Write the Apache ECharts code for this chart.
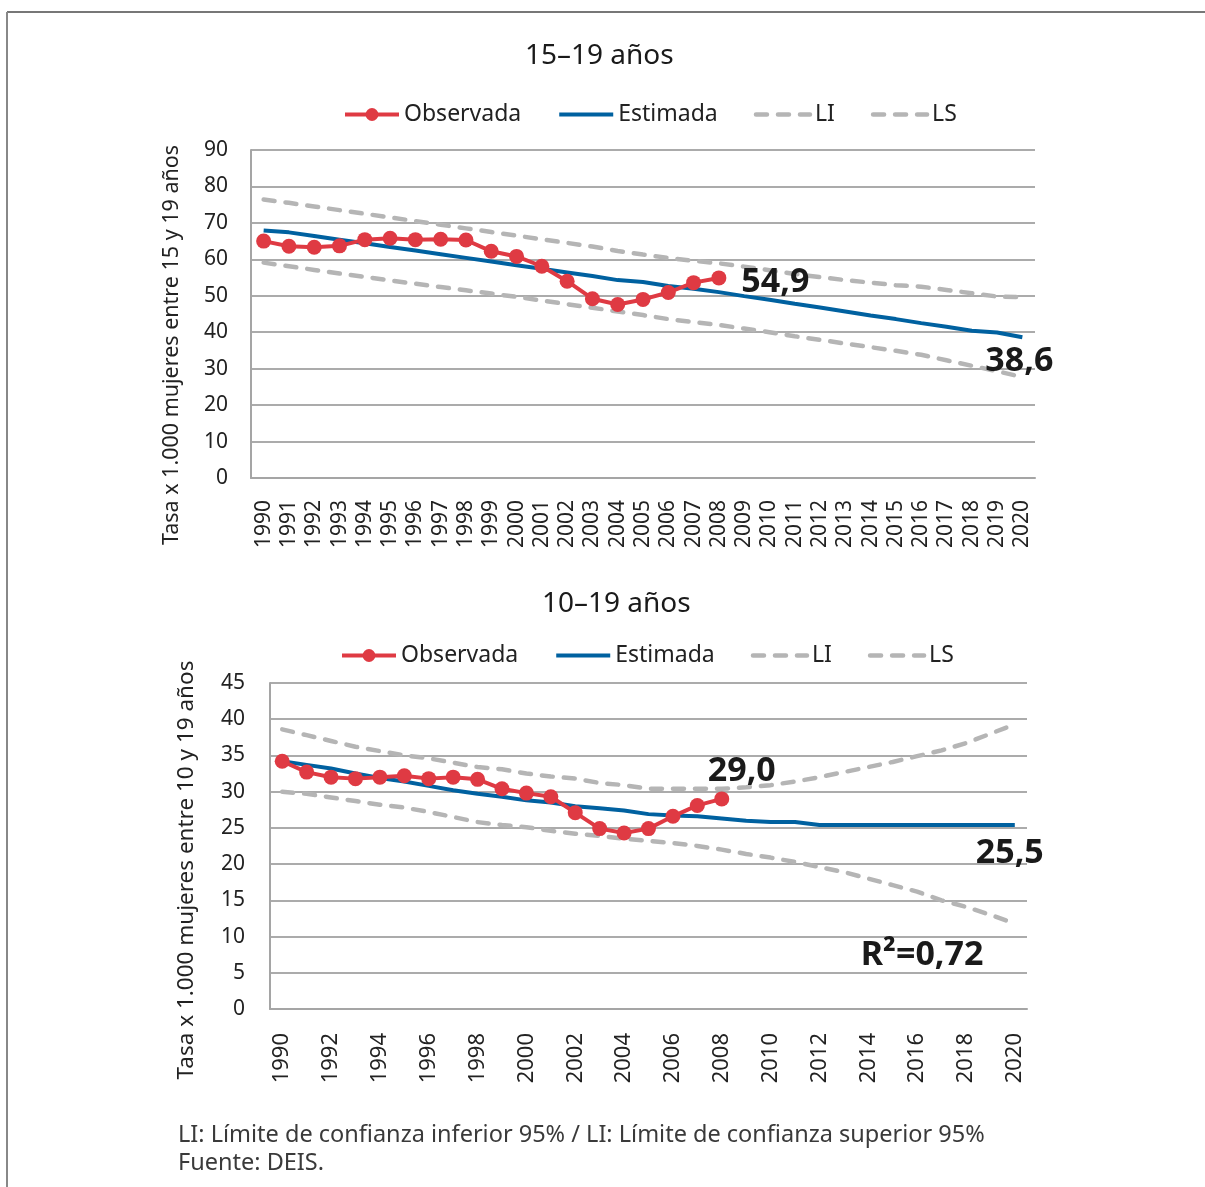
<!DOCTYPE html>
<html>
<head>
<meta charset="utf-8">
<script src="https://cdn.jsdelivr.net/npm/echarts@6/dist/echarts.min.js"></script>
<style>
  html, body { margin: 0; padding: 0; background: #fff; }
  #chart { width: 1205px; height: 1187px; }
</style>
</head>
<body>
<div id="chart"></div>
<script>
// categories
const years = ['1990','1991','1992','1993','1994','1995','1996','1997','1998','1999',
  '2000','2001','2002','2003','2004','2005','2006','2007','2008','2009',
  '2010','2011','2012','2013','2014','2015','2016','2017','2018','2019','2020'];

// 15-19 años
const obs15 = [65.0, 63.6, 63.3, 63.7, 65.4, 65.8, 65.4, 65.5, 65.3, 62.2,
  60.8, 58.1, 54.0, 49.2, 47.6, 49.0, 50.9, 53.6, 54.9];
const est15 = [67.9, 67.4, 66.4, 65.4, 64.4, 63.4, 62.4, 61.4, 60.4, 59.4,
  58.4, 57.4, 56.4, 55.4, 54.3, 53.8, 52.7, 51.9, 51.0, 49.9,
  48.9, 47.8, 46.8, 45.7, 44.6, 43.6, 42.5, 41.5, 40.4, 39.9, 38.6];
const li15 = [59.1, 58.1, 57.1, 56.1, 55.2, 54.2, 53.3, 52.4, 51.5, 50.6,
  49.7, 48.7, 47.7, 46.7, 45.7, 44.7, 43.6, 42.8, 42.0, 41.0,
  40.0, 38.9, 37.9, 36.9, 35.9, 34.9, 33.8, 32.3, 30.8, 29.3, 27.7];
const ls15 = [76.4, 75.5, 74.5, 73.5, 72.5, 71.5, 70.5, 69.5, 68.5, 67.5,
  66.5, 65.5, 64.5, 63.5, 62.3, 61.3, 60.4, 59.6, 58.9, 58.0,
  57.0, 56.0, 55.1, 54.3, 53.6, 52.9, 52.5, 51.6, 50.7, 49.8, 49.6];

// 10-19 años
const obs10 = [34.2, 32.7, 32.0, 31.8, 32.0, 32.2, 31.8, 32.0, 31.7, 30.4,
  29.8, 29.3, 27.1, 24.9, 24.3, 24.9, 26.6, 28.1, 29.0];
const est10 = [34.2, 33.7, 33.2, 32.5, 31.9, 31.4, 30.8, 30.2, 29.7, 29.3,
  28.8, 28.5, 28.0, 27.7, 27.4, 26.9, 26.7, 26.6, 26.3, 26.0,
  25.8, 25.8, 25.4, 25.4, 25.4, 25.4, 25.4, 25.4, 25.4, 25.4, 25.4];
const li10 = [30.0, 29.7, 29.2, 28.7, 28.2, 27.8, 27.2, 26.5, 25.8, 25.4,
  25.1, 24.6, 24.2, 23.9, 23.5, 23.2, 22.9, 22.5, 22.0, 21.4,
  20.9, 20.3, 19.6, 18.9, 18.0, 17.1, 16.2, 15.0, 14.1, 13.0, 11.8];
const ls10 = [38.6, 37.8, 37.0, 36.2, 35.6, 35.0, 34.6, 34.0, 33.4, 33.1,
  32.5, 32.1, 31.8, 31.2, 30.9, 30.4, 30.4, 30.4, 30.4, 30.6,
  30.9, 31.4, 32.0, 32.7, 33.4, 34.1, 34.9, 35.7, 36.7, 38.0, 39.3];

const FONT = "'Noto Sans', 'DejaVu Sans', sans-serif";
const RED = '#df3a43', BLUE = '#0061a0', GREY = '#b5b5b5';

const annoLabel = {
  show: true,
  fontFamily: FONT,
  fontSize: 34,
  fontWeight: 'bold',
  color: '#1a1a1a',
  formatter: p => p.name
};

const mark = (name, coord, position, distance, offset) => ({
  name: name,
  coord: coord,
  label: Object.assign({}, annoLabel, { position: position, distance: distance, offset: offset })
});

const makeSeries = (idx, obs, est, li, ls, marksObs, marksEst) => [
  {
    name: 'Observada', type: 'line', xAxisIndex: idx, yAxisIndex: idx,
    data: obs, symbol: 'circle', symbolSize: 15, z: 5,
    lineStyle: { color: RED, width: 4 }, itemStyle: { color: RED },
    markPoint: { symbol: 'circle', symbolSize: 1, itemStyle: { color: 'rgba(0,0,0,0)' }, data: marksObs }
  },
  {
    name: 'Estimada', type: 'line', xAxisIndex: idx, yAxisIndex: idx,
    data: est, symbol: 'none', z: 4,
    lineStyle: { color: BLUE, width: 4 }, itemStyle: { color: BLUE },
    markPoint: { symbol: 'circle', symbolSize: 1, itemStyle: { color: 'rgba(0,0,0,0)' }, data: marksEst }
  },
  {
    name: 'LI', type: 'line', xAxisIndex: idx, yAxisIndex: idx,
    data: li, symbol: 'none', z: 3,
    lineStyle: { color: GREY, width: 4.5, type: [11, 11], cap: 'round' }, itemStyle: { color: GREY }
  },
  {
    name: 'LS', type: 'line', xAxisIndex: idx, yAxisIndex: idx,
    data: ls, symbol: 'none', z: 3,
    lineStyle: { color: GREY, width: 4.5, type: [11, 11], cap: 'round' }, itemStyle: { color: GREY }
  }
];

const xAxisOf = (idx, interval, margin, size) => ({
  type: 'category', gridIndex: idx, data: years, boundaryGap: true,
  axisLine: { show: true, lineStyle: { color: '#a5a5a5', width: 2 } },
  axisTick: { show: false },
  axisLabel: { rotate: 90, interval: interval, margin: margin, fontFamily: FONT, fontSize: size, color: '#222' }
});

const yAxisOf = (idx, max, step, name, nameGap, nameSize, shift, margin) => ({
  type: 'value', gridIndex: idx, min: 0, max: max, interval: step,
  name: name, nameLocation: 'middle', nameGap: nameGap,
  nameTextStyle: { fontFamily: FONT, fontSize: nameSize, color: '#222', padding: [0, shift, 0, 0] },
  axisLine: { show: true, lineStyle: { color: '#a5a5a5', width: 2 } },
  axisTick: { show: false },
  splitLine: { lineStyle: { color: '#ababab', width: 2 } },
  axisLabel: { margin: margin, fontFamily: FONT, fontSize: 21, color: '#222' }
});

// only the observed series keeps its dot in the legend
const noDot = { opacity: 0 };
const legendOf = (left, top) => ({
  left: left, top: top, itemWidth: 54, itemHeight: 16, itemGap: 36,
  data: [
    'Observada',
    { name: 'Estimada', itemStyle: noDot },
    { name: 'LI', itemStyle: noDot },
    { name: 'LS', itemStyle: noDot }
  ],
  lineStyle: { width: 'inherit' },
  textStyle: { fontFamily: FONT, fontSize: 23, color: '#222' }
});

const chart = echarts.init(document.getElementById('chart'));

const option = {
  animation: false,
  backgroundColor: '#fff',
  title: [
    { text: '15–19 años', left: 520, top: 37, textStyle: { fontFamily: FONT, fontSize: 28, fontWeight: 'normal', color: '#1a1a1a' } },
    { text: '10–19 años', left: 537, top: 585, textStyle: { fontFamily: FONT, fontSize: 28, fontWeight: 'normal', color: '#1a1a1a' } }
  ],
  legend: [legendOf(338, 98), legendOf(335, 639)],
  grid: [
    { left: 251, top: 150, width: 784, height: 328 },
    { left: 270, top: 683, width: 757, height: 326 }
  ],
  xAxis: [xAxisOf(0, 0, 22, 21), xAxisOf(1, 1, 24, 22)],
  yAxis: [
    yAxisOf(0, 90, 10, 'Tasa x 1.000 mujeres entre 15 y 19 años', 68, 21.5, 62, 23),
    yAxisOf(1, 45, 5, 'Tasa x 1.000 mujeres entre 10 y 19 años', 72, 22.5, 48, 25)
  ],
  series: [
    ...makeSeries(0, obs15, est15, li15, ls15,
      [mark('54,9', ['2008', 54.9], 'right', 22, [0, 4])],
      [mark('38,6', ['2020', 38.6], 'bottom', 6, [-3, 0])]),
    ...makeSeries(1, obs10, est10, li10, ls10,
      [mark('29,0', ['2008', 29.0], 'top', 10, [20, 0])],
      [mark('25,5', ['2020', 25.4], 'bottom', 11, [-5, 0]),
       mark('R²=0,72', ['2016', 7.4], 'inside', 0, [5, 0])])
  ],
  graphic: [
    { type: 'line', shape: { x1: 7, y1: 12, x2: 1205, y2: 12 }, style: { stroke: '#777', lineWidth: 2 } },
    { type: 'line', shape: { x1: 7, y1: 12, x2: 7, y2: 1187 }, style: { stroke: '#888', lineWidth: 2 } },
    { type: 'text', left: 178, top: 1123, style: { text: 'LI: Límite de confianza inferior 95% / LI: Límite de confianza superior 95%', font: "23.5px 'Noto Sans', sans-serif", fill: '#3a3a3a' } },
    { type: 'text', left: 178, top: 1151, style: { text: 'Fuente: DEIS.', font: "23.5px 'Noto Sans', sans-serif", fill: '#3a3a3a' } }
  ]
};

chart.setOption(option);
window.onresize = function() {
  chart.resize();
};
</script>
</body>
</html>
